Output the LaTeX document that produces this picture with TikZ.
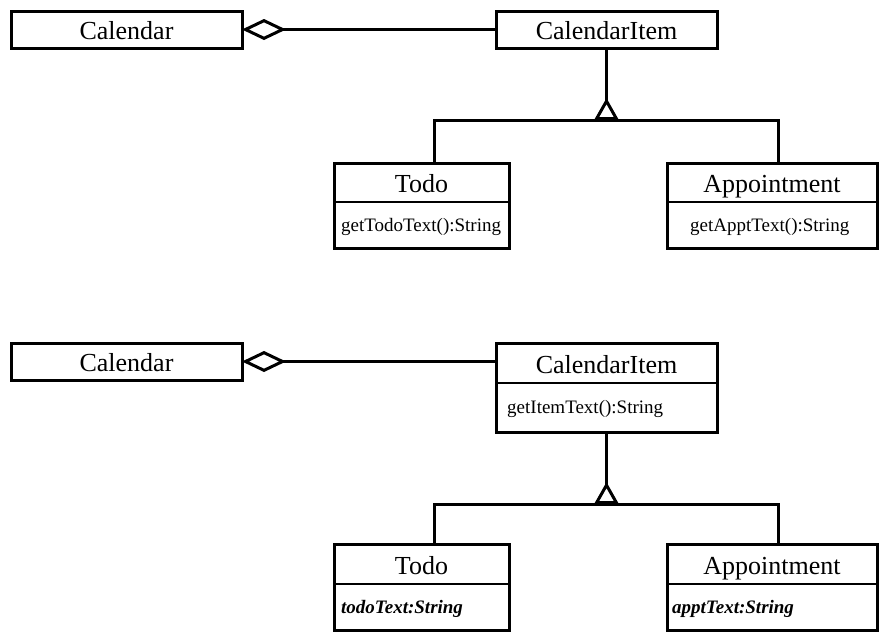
\documentclass[tikz,border=0pt]{standalone}
\usepackage{fontspec}
\setmainfont{Liberation Serif}
\usetikzlibrary{positioning}
\usetikzlibrary{arrows.meta}

\begin{document}
\begin{tikzpicture}[x=1pt, y=-1pt,
            classname/.style={rectangle, anchor=north west, inner sep=0pt, outer sep=0pt, text height=22pt, text depth=2pt, font=\fontsize{26}{30}\selectfont},
            members/.style={rectangle, anchor=north west, inner sep=0pt, outer sep=0pt},
            membertext/.style={inner sep=0pt, text height=14pt, text depth=2pt, font=\fontsize{19}{23}\selectfont},
            outline/.style={draw, line width=3pt},
            divider/.style={draw, line width=1.5pt},
            link/.style={line width=3pt},
            aggregation/.style={link, {Diamond[fill=white, length=44pt, width=21pt]}-},
            inherit/.style={link, -{Triangle[fill=white, length=22pt, width=24pt, reversed]}},
        ]
        \useasboundingbox (0,0) rectangle (889,635);

        % Upper diagram.
        \node[classname, outline, minimum width=231pt, minimum height=37pt] (calendar_a) at (11,11)  {Calendar};
        \node[classname, outline, minimum width=221pt, minimum height=37pt] (item_a)     at (496,11) {CalendarItem};

        \node[classname, minimum width=175pt, minimum height=39pt] (todo_a)      at (334,163) {Todo};
        \node[members,   minimum width=175pt, minimum height=46pt] (todo_a_mem)  at (todo_a.south west) {};
        \node[membertext, right=7pt of todo_a_mem.west]  (todo_a_op) {getTodoText():String};

        \node[classname, minimum width=210pt, minimum height=39pt] (appt_a)      at (667,163) {Appointment};
        \node[members,   minimum width=210pt, minimum height=46pt] (appt_a_mem)  at (appt_a.south west) {};
        \node[membertext, right=23pt of appt_a_mem.west] (appt_a_op) {getApptText():String};

        \draw[outline] (todo_a.north west) rectangle (todo_a_mem.south east);
        \draw[divider] (todo_a.south west) -- (todo_a.south east);
        \draw[outline] (appt_a.north west) rectangle (appt_a_mem.south east);
        \draw[divider] (appt_a.south west) -- (appt_a.south east);

        \coordinate (bar_a_left)  at (434,120);
        \coordinate (bar_a_right) at (778,120);

        % Lines.
        \draw[aggregation] (calendar_a.east) -- (item_a.west);
        \draw[link] (todo_a.north -| bar_a_left) -- (bar_a_left) -- (bar_a_right) -- (appt_a.north -| bar_a_right);
        \draw[inherit] (item_a.south) -- (item_a.south |- bar_a_left);

        % Lower diagram.
        \node[classname, outline, minimum width=231pt, minimum height=37pt] (calendar_b) at (11,343) {Calendar};

        \node[classname, minimum width=221pt, minimum height=40pt] (item_b)      at (496,343) {CalendarItem};
        \node[members,   minimum width=221pt, minimum height=49pt] (item_b_mem)  at (item_b.south west) {};
        \node[membertext, right=11pt of item_b_mem.west] (item_b_op) {getItemText():String};

        \node[classname, minimum width=175pt, minimum height=40pt] (todo_b)      at (334,544) {Todo};
        \node[members,   minimum width=175pt, minimum height=46pt] (todo_b_mem)  at (todo_b.south west) {};
        \node[membertext, font=\fontsize{19}{23}\selectfont\bfseries\itshape, right=7pt of todo_b_mem.west] (todo_b_attr) {todoText:String};

        \node[classname, minimum width=210pt, minimum height=40pt] (appt_b)      at (667,544) {Appointment};
        \node[members,   minimum width=210pt, minimum height=46pt] (appt_b_mem)  at (appt_b.south west) {};
        \node[membertext, font=\fontsize{19}{23}\selectfont\bfseries\itshape, right=5pt of appt_b_mem.west] (appt_b_attr) {apptText:String};

        \draw[outline] (item_b.north west) rectangle (item_b_mem.south east);
        \draw[divider] (item_b.south west) -- (item_b.south east);
        \draw[outline] (todo_b.north west) rectangle (todo_b_mem.south east);
        \draw[divider] (todo_b.south west) -- (todo_b.south east);
        \draw[outline] (appt_b.north west) rectangle (appt_b_mem.south east);
        \draw[divider] (appt_b.south west) -- (appt_b.south east);

        \coordinate (bar_b_left)  at (434,504);
        \coordinate (bar_b_right) at (778,504);

        % Lines.
        \draw[aggregation] (calendar_b.east) -- (item_b.west |- calendar_b.east);
        \draw[link] (todo_b.north -| bar_b_left) -- (bar_b_left) -- (bar_b_right) -- (appt_b.north -| bar_b_right);
        \draw[inherit] (item_b_mem.south) -- (item_b_mem.south |- bar_b_left);
    \end{tikzpicture}
\end{document}
